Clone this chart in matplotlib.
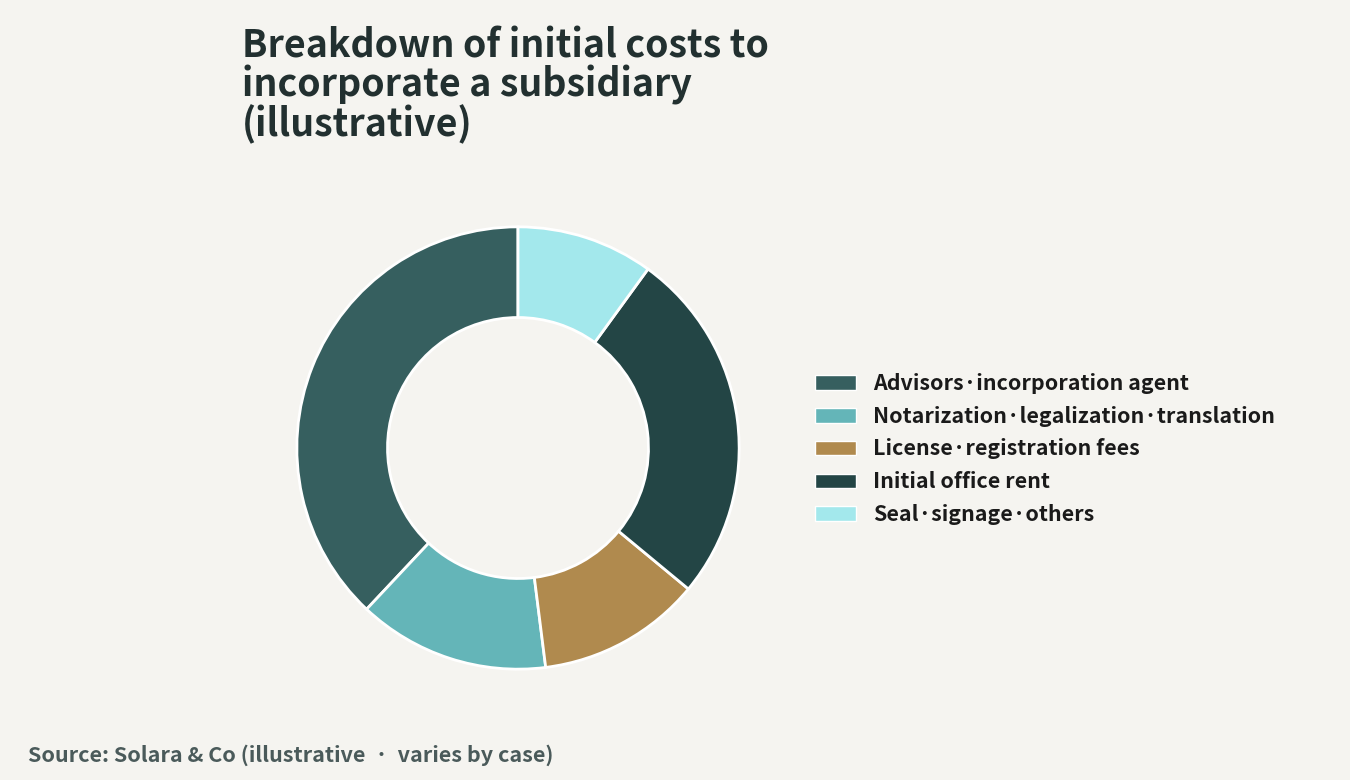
import matplotlib.pyplot as plt
from matplotlib.patches import Patch

categories = ["Advisors·incorporation agent",
              "Notarization·legalization·translation",
              "License·registration fees",
              "Initial office rent",
              "Seal·signage·others"]
shares = [38, 14, 12, 26, 10]
colors = ["#365f5f", "#64b5b8", "#b08a4e", "#234545", "#a3e8ec"]

bg = "#f5f4f0"
fonts = ["Noto Sans CJK JP", "DejaVu Sans"]
plt.rcParams["font.family"] = fonts

fig = plt.figure(figsize=(13.5, 7.8), dpi=100, facecolor=bg)

# donut, centre at about (518, 448) px
ax = fig.add_axes([(518 - 230) / 1350, (332 - 230) / 780, 460 / 1350, 460 / 780])
ax.set_facecolor(bg)
ax.pie(shares, colors=colors, startangle=90, counterclock=True, radius=1,
       wedgeprops=dict(width=0.41, edgecolor="white", linewidth=2))
ax.set_xlim(-1.04, 1.04)
ax.set_ylim(-1.04, 1.04)
ax.set_aspect("equal")
ax.axis("off")

handles = [Patch(facecolor=c, edgecolor="white", linewidth=1) for c in colors]
fig.legend(handles, categories, loc="center left",
           bbox_to_anchor=(815 / 1350, 1 - 449 / 780),
           frameon=False, handlelength=1.9, handleheight=0.7,
           handletextpad=0.8, labelspacing=0.56, borderpad=0, borderaxespad=0,
           prop=dict(family=fonts, weight="bold", size=15.4), labelcolor="#1a1a1a")

fig.text(242 / 1350, 1 - 26 / 780,
         "Breakdown of initial costs to\nincorporate a subsidiary\n(illustrative)",
         ha="left", va="top", fontsize=27, fontweight="bold", color="#223030",
         linespacing=1.0)

fig.text(28 / 1350, 1 - 755 / 780, "Source: Solara & Co (illustrative  ·  varies by case)",
         ha="left", va="center", fontsize=15.5, fontweight="bold", color="#4a5a5a")

fig.savefig("out.png", dpi=100, facecolor=bg)
